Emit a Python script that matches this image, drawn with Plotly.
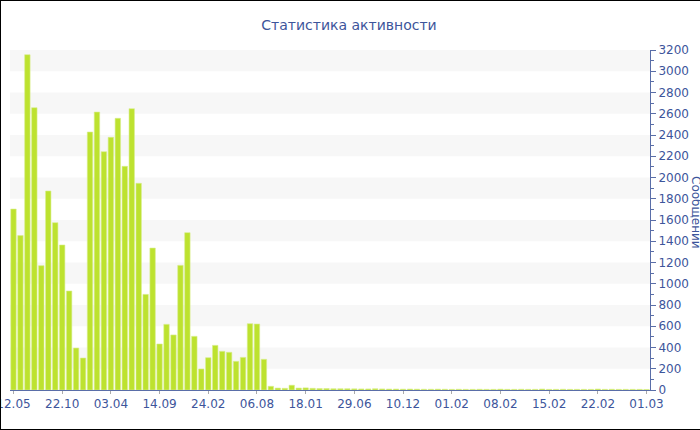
import plotly.graph_objects as go

title_text = "Статистика активности"
y_title = "Сообщений"

tick_labels = ["12.05", "22.10", "03.04", "14.09", "24.02", "06.08", "18.01",
               "29.06", "10.12", "01.02", "08.02", "15.02", "22.02", "01.03"]

messages = [
    1703, 1453, 3156, 2657, 1170, 1873, 1575, 1365, 932, 395,
    301, 2428, 2616, 2243, 2378, 2557, 2105, 2648, 1945, 900,
    1336, 433, 618, 518, 1173, 1481, 505, 198, 304, 420,
    364, 355, 270, 307, 624, 621, 289, 35, 18, 16,
    45, 18, 20, 16, 14, 14, 12, 12, 12, 11,
    10, 10, 12, 10, 9, 9, 8, 9, 8, 7,
    7, 8, 7, 6, 7, 6, 6, 7, 6, 6,
    8, 6, 6, 7, 6, 6, 9, 6, 6, 7,
    6, 6, 6, 6, 9, 6, 7, 6, 6, 6,
    6, 5,
]

y_max = 3200
band_step = 200
tick_every = 7

idx = list(range(len(messages)))
tickvals = idx[::tick_every]

text_color = "#3d559b"
axis_color = "#5a6ea8"

fig = go.Figure()
fig.add_trace(go.Bar(
    x=idx, y=messages,
    marker=dict(color="#bde22f", line=dict(color="#d9ef8f", width=0.6)),
    hoverinfo="y",
))

shapes = []
for lo in range(band_step, y_max, band_step * 2):
    shapes.append(dict(type="rect", xref="paper", yref="y", x0=0, x1=1,
                       y0=lo, y1=lo + band_step, fillcolor="#f7f7f7",
                       line=dict(width=0), layer="below"))

# outer frame (left, top, bottom)
W, H, L, R, T, B = 700, 430, 10, 50, 50, 40
pw, ph = W - L - R, H - T - B
def px(xp): return (xp - L) / pw
def py(yp): return (H - B - yp) / ph
frame = dict(color="black", width=2)
shapes += [
    dict(type="line", xref="paper", yref="paper", x0=px(0), x1=px(0), y0=py(0), y1=py(H), line=frame),
    dict(type="line", xref="paper", yref="paper", x0=px(0), x1=px(W), y0=py(0), y1=py(0), line=frame),
    dict(type="line", xref="paper", yref="paper", x0=px(0), x1=px(W), y0=py(H), y1=py(H), line=frame),
]

fig.update_layout(
    width=W, height=H,
    margin=dict(l=L, r=R, t=T, b=B, autoexpand=False),
    paper_bgcolor="white", plot_bgcolor="white",
    font=dict(family="DejaVu Sans", size=12, color=text_color),
    title=dict(text=title_text, x=349 / W, xref="container", xanchor="center",
               y=1 - 25 / H, yref="container", yanchor="middle",
               font=dict(family="DejaVu Sans", size=14, color=text_color)),
    bargap=0.22,
    showlegend=False,
    shapes=shapes,
    xaxis=dict(
        tickmode="array", tickvals=tickvals, ticktext=tick_labels,
        range=[-0.5, len(messages) - 0.5],
        showline=True, linecolor=axis_color, linewidth=1,
        ticks="outside", ticklen=3, tickcolor="#aaaaaa",
        showgrid=False, zeroline=False, automargin=False,
        ticklabeloverflow="allow",
        tickfont=dict(size=12, color=text_color),
    ),
    yaxis=dict(
        side="right", range=[0, y_max], dtick=200,
        showline=True, linecolor=axis_color, linewidth=1,
        ticks="outside", ticklen=5, tickcolor=axis_color,
        minor=dict(dtick=100, ticks="outside", ticklen=3, tickcolor=axis_color),
        showgrid=False, zeroline=False, automargin=False,
        ticklabeloverflow="allow",
        tickfont=dict(size=12, color=text_color),
    ),
    annotations=[dict(
        text=y_title, textangle=90, xref="paper", yref="paper",
        x=px(696), y=py(212), xanchor="center", yanchor="middle",
        showarrow=False, font=dict(size=12, color=text_color),
    )],
)

fig.write_html("out.html",
               config={"displayModeBar": False},
               post_script="document.body.style.margin='0';document.body.style.overflow='hidden';")
